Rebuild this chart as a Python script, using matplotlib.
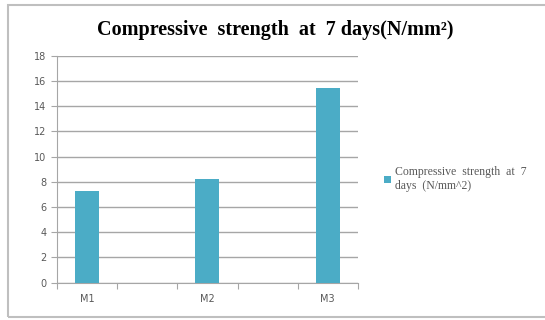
import numpy as np
import matplotlib.pyplot as plt
from matplotlib.patches import Rectangle

# Mix labels, with empty slots between them on the category axis
categories = ["M1", "", "M2", "", "M3"]
strength_7d = [7.3, np.nan, 8.2, np.nan, 15.4]
yticks = list(range(0, 20, 2))

bar_color = "#4BACC6"
grid_color = "#A6A6A6"
text_color = "#595959"

fig = plt.figure(figsize=(5.45, 3.2), dpi=100)
ax = fig.add_axes([0.1046, 0.117, 0.552, 0.709])

x = np.arange(len(categories))
ax.bar(x, strength_7d, width=0.4, color=bar_color, zorder=3,
       label="Compressive  strength  at  7\ndays  (N/mm^2)")

ax.set_xlim(-0.5, len(categories) - 0.5)
ax.set_ylim(0, 18)
ax.set_yticks(yticks)
ax.set_xticks(np.arange(-0.5, len(categories)), minor=False)
ax.set_xticklabels([])
ax.set_xticks(x, minor=True)
ax.set_xticklabels(categories, minor=True)
ax.tick_params(axis="x", which="major", length=4, color=grid_color)
ax.tick_params(axis="x", which="minor", length=0, pad=8, labelsize=7, labelcolor=text_color)
ax.tick_params(axis="y", length=4, color=grid_color, labelsize=7, labelcolor=text_color)

ax.grid(axis="y", color=grid_color, linewidth=1, zorder=0)
for side in ["top", "right"]:
    ax.spines[side].set_visible(False)
for side in ["left", "bottom"]:
    ax.spines[side].set_color(grid_color)

fig.text(0.505, 0.905, "Compressive  strength  at  7 days(N/mm²)",
         ha="center", va="center", fontsize=14.5, fontweight="bold",
         family="Liberation Serif", color="black")

leg = ax.legend(loc="center left", bbox_to_anchor=(1.052, 0.455), frameon=False,
                prop={"family": "Liberation Serif", "size": 8.5},
                handlelength=0.6, handleheight=0.6, handletextpad=0.3)
for t in leg.get_texts():
    t.set_color(text_color)

# outer chart frame
fig.patches.append(Rectangle((8 / 545, 3 / 320), 1.2, 312 / 320, transform=fig.transFigure,
                             fill=False, edgecolor="#BFBFBF", linewidth=1.5))

fig.savefig("out.png", dpi=100)
